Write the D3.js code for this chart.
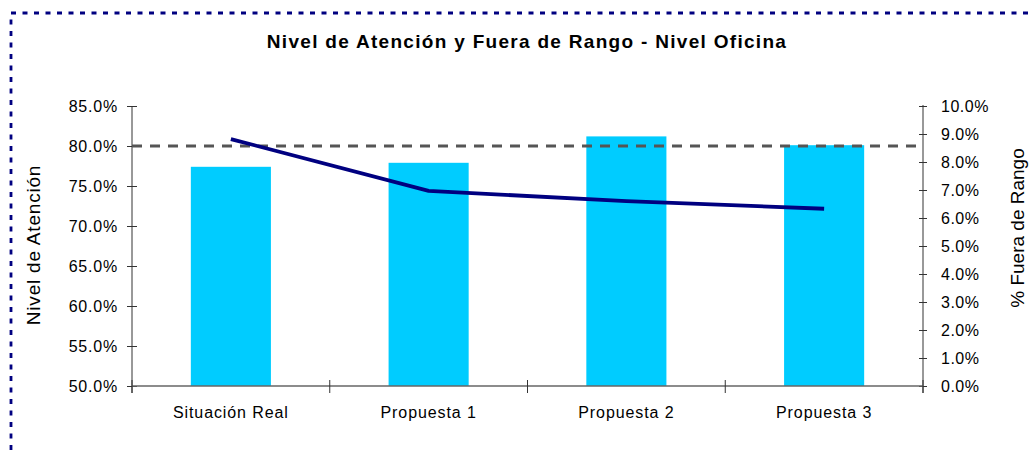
<!DOCTYPE html>
<html><head><meta charset="utf-8">
<script src="https://cdn.jsdelivr.net/npm/d3@7/dist/d3.min.js"></script>
<style>
html,body{margin:0;padding:0;background:#fff;}
svg{display:block;font-family:"Liberation Sans",Arial,sans-serif;}
</style></head>
<body>
<svg id="chart" width="1034" height="450"></svg>
<script>
const categories = ["Situación Real", "Propuesta 1", "Propuesta 2", "Propuesta 3"];
const nivelAtencion = [0.774, 0.779, 0.812, 0.801];
const fueraDeRango = [0.0882, 0.0697, 0.0660, 0.0633];
const umbral = 0.80;
const leftTicks = [0.50, 0.55, 0.60, 0.65, 0.70, 0.75, 0.80, 0.85];
const rightTicks = [0, 0.01, 0.02, 0.03, 0.04, 0.05, 0.06, 0.07, 0.08, 0.09, 0.10];
const title = "Nivel de Atención y Fuera de Rango - Nivel Oficina";
const leftLabel = "Nivel de Atención";
const rightLabel = "% Fuera de Rango";

const svg = d3.select("#chart");
const L = 132, R = 923, T = 106, B = 386;

// border
svg.append("path").attr("d", `M11,450 L11,13 L1034,13`)
  .attr("fill", "none").attr("stroke", "#000080").attr("stroke-width", 2.8)
  .attr("stroke-dasharray", "5,6.5");

const x = d3.scaleBand().domain(categories).range([L, R]).padding(0);
const yL = d3.scaleLinear().domain([0.50, 0.85]).range([B, T]);
const yR = d3.scaleLinear().domain([0, 0.10]).range([B, T]);

// title
svg.append("text").attr("x", 527).attr("y", 48).attr("text-anchor", "middle")
  .attr("font-size", 19).attr("font-weight", "bold").attr("letter-spacing", "1.3px")
  .text(title);

// bars
const barW = x.bandwidth() * 0.405;
svg.append("g").selectAll("rect").data(categories).join("rect")
  .attr("x", (d) => x(d) + x.bandwidth() / 2 - barW / 2)
  .attr("width", barW)
  .attr("y", (d, i) => yL(nivelAtencion[i]))
  .attr("height", (d, i) => B - yL(nivelAtencion[i]))
  .attr("fill", "#00CCFF");

// left axis
const fmt = d3.format(".1%");
const gL = svg.append("g").attr("transform", `translate(${L},0)`)
  .call(d3.axisLeft(yL).tickValues(leftTicks).tickFormat(fmt).tickSize(5).tickPadding(9));
gL.select(".domain").remove();
gL.selectAll(".tick line").attr("x1", 5).attr("x2", -5).attr("stroke", "#333");
gL.selectAll(".tick text").attr("font-size", 16).attr("letter-spacing", "0.8px")
  .attr("font-family", "Liberation Sans, Arial, sans-serif").attr("fill", "#000");
svg.append("line").attr("x1", L).attr("x2", L).attr("y1", T).attr("y2", B + 7)
  .attr("stroke", "#333").attr("stroke-width", 1);

// right axis
const gR = svg.append("g").attr("transform", `translate(${R},0)`)
  .call(d3.axisRight(yR).tickValues(rightTicks).tickFormat(fmt).tickSize(4).tickPadding(14));
gR.select(".domain").remove();
gR.selectAll(".tick line").attr("x1", -4).attr("x2", 4).attr("stroke", "#333");
gR.selectAll(".tick text").attr("font-size", 16).attr("letter-spacing", "0.5px")
  .attr("font-family", "Liberation Sans, Arial, sans-serif").attr("fill", "#000");
svg.append("line").attr("x1", R).attr("x2", R).attr("y1", T - 1).attr("y2", B + 7)
  .attr("stroke", "#333").attr("stroke-width", 1);

// bottom axis
svg.append("line").attr("x1", L).attr("x2", R).attr("y1", B).attr("y2", B)
  .attr("stroke", "#666").attr("stroke-width", 1.5);
const edges = categories.map((c) => x(c)).concat([x.range()[1]]);
svg.append("g").selectAll("line").data(edges).join("line")
  .attr("x1", (d) => d).attr("x2", (d) => d).attr("y1", B - 6).attr("y2", B + 7)
  .attr("stroke", "#333").attr("stroke-width", 1);
const gB = svg.append("g").attr("transform", `translate(0,${B})`)
  .call(d3.axisBottom(x).tickSize(0).tickPadding(21));
gB.select(".domain").remove();
gB.selectAll(".tick text").attr("font-size", 16).attr("letter-spacing", "0.9px")
  .attr("font-family", "Liberation Sans, Arial, sans-serif").attr("fill", "#000");

// threshold dashed line
svg.append("line").attr("x1", L).attr("x2", R).attr("y1", yL(umbral)).attr("y2", yL(umbral))
  .attr("stroke", "#555").attr("stroke-width", 2.8).attr("stroke-dasharray", "10,8");

// line series
const line = d3.line().x((d, i) => x(categories[i]) + x.bandwidth() / 2).y((d) => yR(d));
svg.append("path").datum(fueraDeRango).attr("d", line)
  .attr("fill", "none").attr("stroke", "#000080").attr("stroke-width", 3.8)
  .attr("stroke-linejoin", "round");

// axis titles
svg.append("text").attr("transform", "translate(40,245) rotate(-90)")
  .attr("text-anchor", "middle").attr("font-size", 19).attr("letter-spacing", "0.8px")
  .text(leftLabel);
svg.append("text").attr("transform", "translate(1024,228) rotate(-90)")
  .attr("text-anchor", "middle").attr("font-size", 19).attr("letter-spacing", "0px")
  .text(rightLabel);
</script>
</body></html>
